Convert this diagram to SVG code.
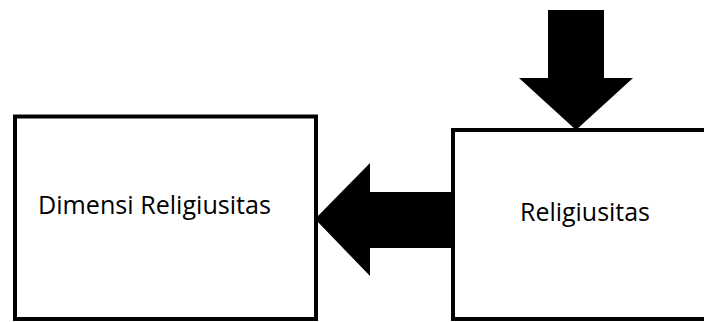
<svg xmlns="http://www.w3.org/2000/svg" width="704" height="322" viewBox="0 0 704 322">
<style>
.box{fill:#fff;stroke:#000;stroke-width:4}
.lbl{font-family:"Open Sans","Liberation Sans",Arial,sans-serif;font-size:25px;fill:#000}
.arr{fill:#000;stroke:none}
</style>
<rect width="704" height="322" fill="#fff"/>
<g id="connectors">
<polygon class="arr" points="455,192 370,192 370,163 315,219 370,276 370,248 455,248"/>
<polygon class="arr" points="548,10 604,10 604,78 633,78 576,130 519,78 548,78"/>
</g>
<g id="node-dimensi">
<rect class="box" x="15" y="116.5" width="301" height="202.5"/>
<text class="lbl" x="38" y="214" textLength="233" lengthAdjust="spacingAndGlyphs">Dimensi Religiusitas</text>
</g>
<g id="node-religiusitas">
<rect class="box" x="453" y="130" width="260" height="189"/>
<text class="lbl" x="520" y="221" textLength="130" lengthAdjust="spacingAndGlyphs">Religiusitas</text>
</g>
</svg>
